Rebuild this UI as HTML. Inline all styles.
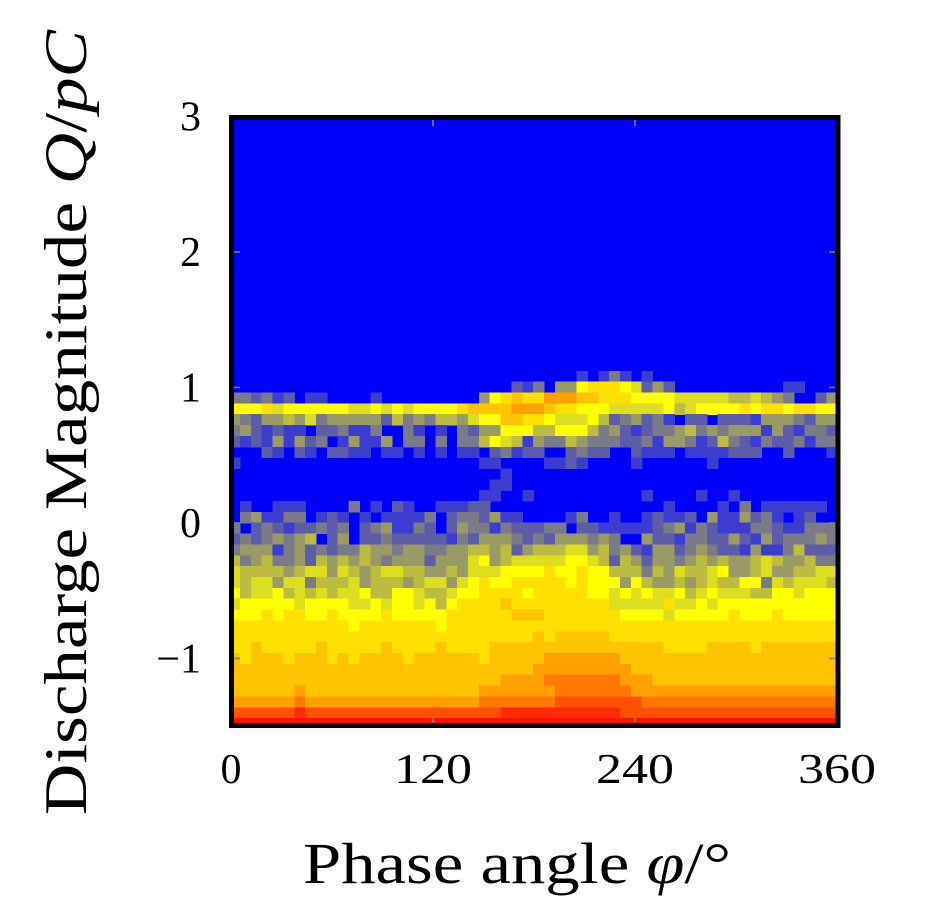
<!DOCTYPE html>
<html><head><meta charset="utf-8"><style>
html,body{margin:0;padding:0;background:#fff;}
svg{display:block;}
text{font-family:"Liberation Serif","DejaVu Serif",serif;fill:#000;}
</style></head><body>
<svg id="chart" width="925" height="924" viewBox="0 0 925 924" xmlns="http://www.w3.org/2000/svg">
<defs><clipPath id="plotclip"><rect x="231" y="117" width="607" height="608"/></clipPath></defs>
<rect x="231" y="117" width="607" height="608" fill="#0000ff"/>
<g id="cells" clip-path="url(#plotclip)"></g>
<g id="ticks"></g>
<rect x="231.5" y="117.5" width="606.5" height="608" fill="none" stroke="#000" stroke-width="5"/>
<g id="xlabels"></g>
<g id="ylabels"></g>
<text x="303" y="883" font-size="58" textLength="428" lengthAdjust="spacingAndGlyphs">Phase angle <tspan font-style="italic">φ</tspan>/°</text>
<text transform="translate(86,815) rotate(-90)" font-size="60" textLength="785" lengthAdjust="spacingAndGlyphs">Discharge Magnitude <tspan font-style="italic">Q</tspan>/<tspan font-style="italic">pC</tspan></text>
</svg>
<script>
// Heatmap rows, top-down (highest Q bin first); one hex level per phase bin (56 bins)
const rows = [
"00000000000000000000000000000000101310100000000000000000",
"00000000000000000000000000213044788876242000000000011000",
"33231201100001000000000478988aaa998887777666665565430024",
"77786777777667676777789999aaa988777666667567777878878877",
"43244546344444253435546779988766675234231022022214443244",
"34212110223113003101032447775577753421233453434441421332",
"21214142301411403303033576514335433322314431253213223133",
"00021021022110110101011023122002322002111011112220020001",
"10000000000000000000000110000112100001000000100000000000",
"00000000000000000000000001000000000000000000000000000000",
"00000000000000000000000011000000000000000000000000000000",
"00000000000000000000000110010000000000100001001000000000",
"01001110000301021001112200000000000000001000010301111110",
"03411330121010111130233241100001300100121120411423101200",
"30232122323023411320243313222330221111123413211133211333",
"23234345024022322222132444323244434300422133224214233343",
"34441342323354434433445545245556645342144234322141135222",
"53453342545454344424446745666667765254244345454456544533",
"65555456646545665544546667777877877555354655674456445566",
"65664663555645554566467877888887877747544545655773656665",
"75667565656675577655677888878888877676766756766655776777",
"67777767777667677675788889888888888666668667677777777777",
"77787887787777877777888888999888888877776777778777877777",
"88888888888788888887888888888888888888888888888888888888",
"88888888888888888888888888889899999888888888888888888888",
"88988888988888988889888899999999999999998888999989999999",
"98999899989899998999999899999aaaaaaa99999999999999999999",
"9999999999999999999999999999aaaaaaaaa9999999999999999999",
"9999999999999999999999999aaaabbbbbbbaaa99999999999999999",
"999999a9999999999999999aaaaaaabbbbbbbaaaaaaaaaaaaaaaaaaa",
"aaaaaabaaaaaaaaaaaaaaaabbbbbbbccccccccbbbbbbbbbbbbbbbbbb",
"ccccccdccccccccccccccccccdddddddddddcccccccccccccccccccc",
"eeeeeeeeeeeeeeeeeeeeeeeeeeeeeeeeeeeeeeeeeeeeeeeeeeeeeeee"
];
const levelColors = ["#0000ff","#3c3cd0","#5c5ca8","#7a7a88","#9a9a66","#bcbc40","#dede20","#ffff00","#ffe000","#ffc400","#ffa000","#ff7800","#ff5200","#ff2a00","#ff1000"];
const xTicks = [0,120,240,360];
const xTickLabels = ["0","120","240","360"];
const yTicks = [-1,0,1,2,3];
const yTickLabels = ["\u22121","0","1","2","3"];
const phaseStart = -1.1, phaseStep = 6.45;   // phase bins (deg)
const qStart = -1.52, qStep = 0.0801;         // magnitude bins
const XMIN=0, XMAX=360;
const YZ=523, YPU=135.5;
function xs(v){ return 231 + (v - XMIN) / (XMAX - XMIN) * 606; }
function ys(v){ return YZ - v * YPU; }
const NS="http://www.w3.org/2000/svg";
const gc=document.getElementById('cells');
const nR=rows.length;
rows.forEach((row,i)=>{
  const k=nR-1-i;
  const q0=qStart+k*qStep, q1=q0+qStep;
  for(let c=0;c<row.length;c++){
    const lv=parseInt(row[c],16);
    if(lv===0) continue;
    const p0=phaseStart+c*phaseStep, p1=p0+phaseStep;
    const r=document.createElementNS(NS,'rect');
    r.setAttribute('x',xs(p0).toFixed(2));
    r.setAttribute('y',ys(q1).toFixed(2));
    r.setAttribute('width',(xs(p1)-xs(p0)+0.6).toFixed(2));
    r.setAttribute('height',(ys(q0)-ys(q1)+0.6).toFixed(2));
    r.setAttribute('fill',levelColors[lv]);
    r.setAttribute('shape-rendering','crispEdges');
    
    
    gc.appendChild(r);
  }
});
const gt=document.getElementById('ticks');
function line(x1,y1,x2,y2){
  const l=document.createElementNS(NS,'line');
  l.setAttribute('x1',x1);l.setAttribute('y1',y1);l.setAttribute('x2',x2);l.setAttribute('y2',y2);
  l.setAttribute('stroke','#808080');l.setAttribute('stroke-width','1.6');
  
  
  gt.appendChild(l);
}
xTicks.forEach(v=>{ const x=xs(v); line(x,120,x,126); line(x,717,x,723); });
yTicks.forEach(v=>{ const y=ys(v); line(234,y,240,y); line(829,y,835,y); });
const gx=document.getElementById('xlabels');
xTicks.forEach((v,i)=>{
  const t=document.createElementNS(NS,'text');
  t.setAttribute('x',xs(v)); t.setAttribute('y',783);
  t.setAttribute('font-size','42'); t.setAttribute('text-anchor','middle');
  if(xTickLabels[i].length>1){ t.setAttribute('textLength','78'); t.setAttribute('lengthAdjust','spacingAndGlyphs'); }
  t.textContent=xTickLabels[i];
  
  
  gx.appendChild(t);
});
const gy=document.getElementById('ylabels');
yTicks.forEach((v,i)=>{
  const t=document.createElementNS(NS,'text');
  t.setAttribute('x',201); t.setAttribute('y',ys(v)+14);
  t.setAttribute('font-size','42'); t.setAttribute('text-anchor','end');
  t.textContent=yTickLabels[i];
  
  
  gy.appendChild(t);
});
</script>
</body></html>
